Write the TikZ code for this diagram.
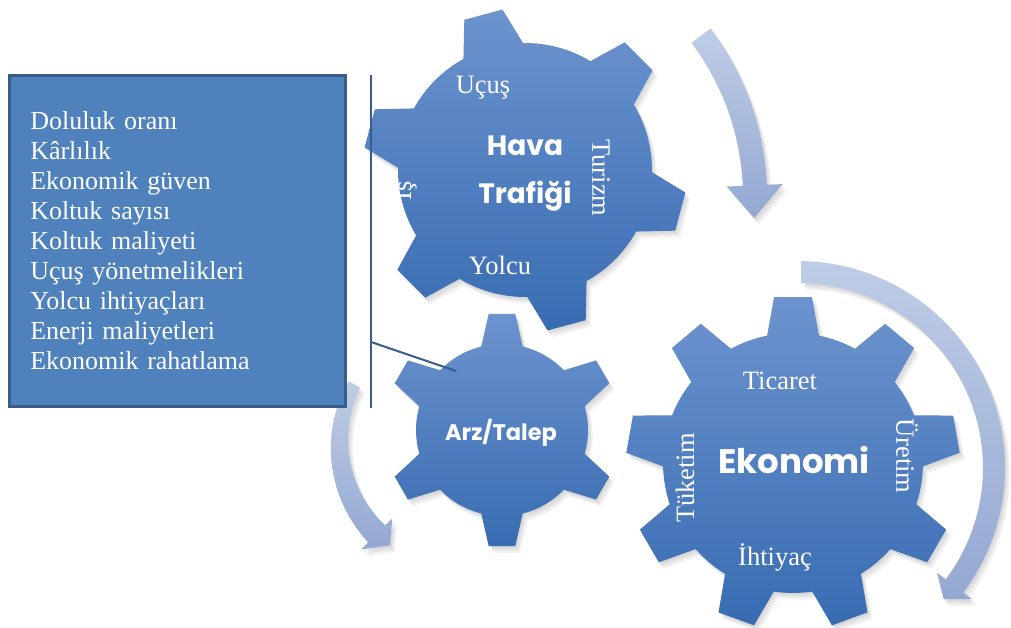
\documentclass[tikz,border=0pt]{standalone}
\usepackage{fontspec}
\setmainfont{Liberation Serif}
\newfontfamily\titlefont{Poppins}

\definecolor{gearTop}{RGB}{108,147,206}
\definecolor{gearBot}{RGB}{56,108,178}
\definecolor{arrowTop}{RGB}{190,205,230}
\definecolor{arrowBot}{RGB}{148,168,210}
\definecolor{boxFill}{RGB}{79,129,189}
\definecolor{boxLine}{RGB}{56,93,138}

\tikzset{
  gearfill/.style={top color=gearTop, bottom color=gearBot},
  arrowfill/.style={top color=arrowTop, bottom color=arrowBot},
  shade layer/.style={fill=black, opacity=0.05, shift={(1.6*#1,-2.2*#1)}},
  gearword/.style={text=white, font=\fontsize{26.5}{30}\selectfont, inner sep=0pt},
  gearname/.style={text=white, inner sep=0pt, align=center},
  bracket/.style={draw=boxLine, line width=2.5pt},
}

% gear: #1 options, #2,#3 centre, #4 body radius, #5 tooth radius,
% #6 number of teeth, #7 angle of first tooth, #8 half angle at the root, #9 half angle at the tip
\newcommand{\gearshape}[9]{%
  \begin{scope}[shift={(#2,#3)}]
  \path[#1] ({#7-#8}:#4)
    \foreach \k [evaluate=\k as \a using {#7+(\k-1)*360/#6}] in {1,...,#6}{
      -- ({\a-#9}:#5) -- ({\a+#9}:#5) -- ({\a+#8}:#4)
      arc[start angle={\a+#8}, end angle={\a+360/#6-#8}, radius=#4]
    } -- cycle;
  \end{scope}}

% curved block arrow: #1 options, #2 centre, #3 mid radius, #4 start angle,
% #5 end of shaft, #6 start width, #7 end width, #8 head overhang, #9 tip angle
\newcommand{\circarrow}[9]{%
  \path[#1, shift={(#2)}]
    plot[domain=#4:#5, samples=48, variable=\t]
      ({(#3+(#6+(#7-#6)*(\t-(#4))/((#5)-(#4)))/2)*cos(\t)},
       {(#3+(#6+(#7-#6)*(\t-(#4))/((#5)-(#4)))/2)*sin(\t)})
    -- ({#5}:{#3+#7/2+#8}) -- ({#9}:{#3}) -- ({#5}:{#3-#7/2-#8})
    -- plot[domain=#5:#4, samples=48, variable=\t]
      ({(#3-(#6+(#7-#6)*(\t-(#4))/((#5)-(#4)))/2)*cos(\t)},
       {(#3-(#6+(#7-#6)*(\t-(#4))/((#5)-(#4)))/2)*sin(\t)})
    -- cycle;}

\begin{document}
\begin{tikzpicture}[x=1pt, y=1pt]
\clip (0,0) rectangle (1011,628);
\fill[white] (0,0) rectangle (1011,628);

% circular arrows
\foreach \s in {1,2,3}{
  \circarrow{shade layer=\s}{487,431}{268}{37}{2.5}{24}{24}{16}{-4.5}
  \circarrow{shade layer=\s}{798,160}{196}{89}{-37}{22}{22}{11}{-42}
  \circarrow{shade layer=\s}{466.5,184}{127}{152}{225}{13}{24}{10}{233}
}
\circarrow{arrowfill}{487,431}{268}{37}{2.5}{24}{24}{16}{-4.5}
\circarrow{arrowfill}{798,160}{196}{89}{-37}{22}{22}{11}{-42}
\circarrow{arrowfill}{466.5,184}{127}{152}{225}{13}{24}{10}{233}

% gears
\foreach \s in {1,2,3}{
  \gearshape{shade layer=\s}{793}{165}{130}{167}{9}{90}{11.5}{6.5}
  \gearshape{shade layer=\s}{525}{458}{127}{162}{6}{45}{14}{7}
  \gearshape{shade layer=\s}{502}{198}{86}{117}{6}{90}{14}{6.5}
}
\gearshape{gearfill}{793}{165}{130}{167}{9}{90}{11.5}{6.5}
\gearshape{gearfill}{525}{458}{127}{162}{6}{45}{14}{7}
\gearshape{gearfill}{502}{198}{86}{117}{6}{90}{14}{6.5}

% factor list
\node[draw=boxLine, line width=2.5pt, fill=boxFill, minimum width=336, minimum height=331,
      inner xsep=20.75pt, text width=294.5pt, align=left, text=white,
      font=\fontsize{26}{30}\selectfont] (box) at (177.5,387)
  {Doluluk oranı\\Kârlılık\\Ekonomik güven\\Koltuk sayısı\\Koltuk maliyeti\\Uçuş yönetmelikleri\\Yolcu ihtiyaçları\\Enerji maliyetleri\\Ekonomik rahatlama};

% bracket pointing at the supply/demand gear
\coordinate (brTop) at (371,553);
\coordinate (brBot) at (371,220);
\coordinate (brJoin) at (371,286);
\coordinate (arzPin) at (456,257);
\draw[bracket] (brTop) -- (brBot);
\draw[bracket, line width=2pt] (brJoin) -- (arzPin);

% gear titles
\node[gearname, font=\titlefont\bfseries\fontsize{28}{48}\selectfont] (hava) at (525,454) {Hava\\Trafiği};
\node[gearname, font=\titlefont\bfseries\fontsize{22.5}{28}\selectfont] (arz) at (501,195) {Arz/Talep};
\node[gearname, font=\titlefont\bfseries\fontsize{34}{40}\selectfont] (eko) at (794,168) {Ekonomi};

% words round the gears
\node[gearword] (ucus) at (483,540) {Uçuş};
\node[gearword, rotate=-90] (turizm) at (601,450) {Turizm};
\node[gearword, rotate=90] (is) at (403,437) {İş};
\node[gearword] (yolcu) at (500,363) {Yolcu};
\node[gearword] (ticaret) at (780,247) {Ticaret};
\node[gearword, rotate=-90] (uretim) at (907,172) {Üretim};
\node[gearword, rotate=90] (tuketim) at (685,150) {Tüketim};
\node[gearword] (ihtiyac) at (775,71) {İhtiyaç};
\end{tikzpicture}
\end{document}
